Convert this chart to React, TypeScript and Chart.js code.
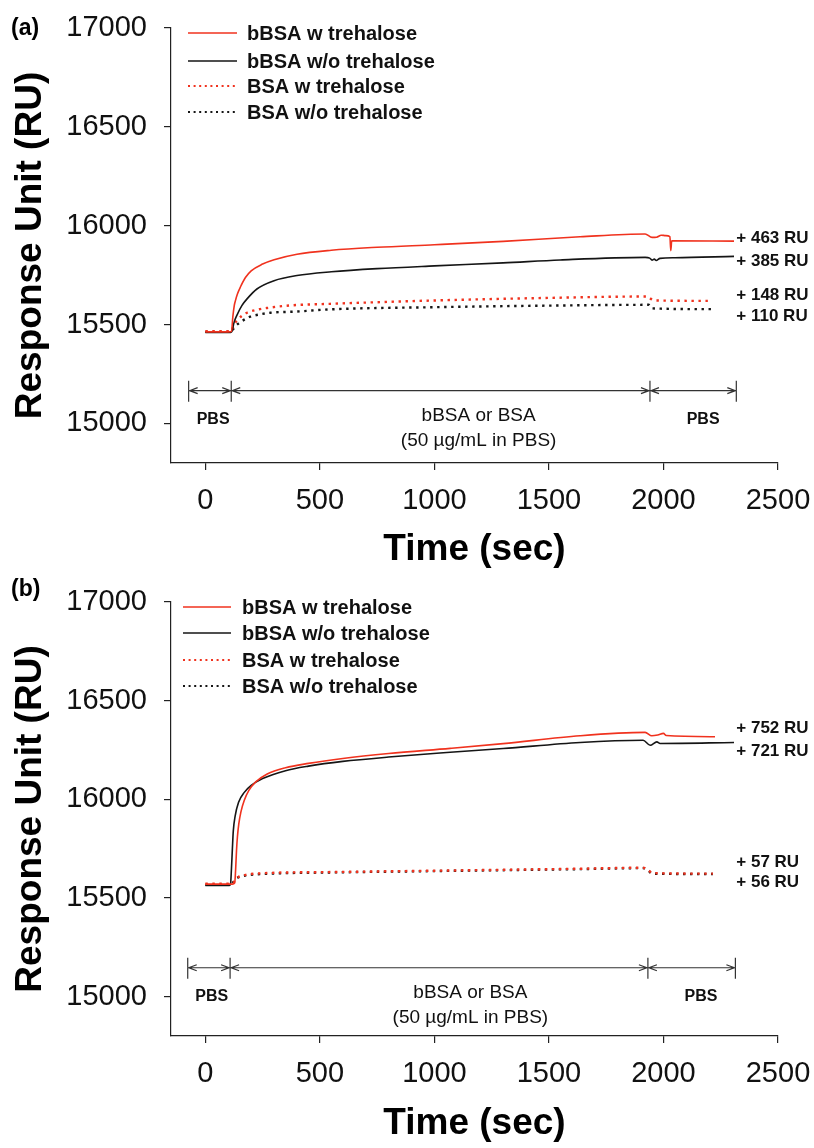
import React, { useEffect, useRef } from 'react';
import { Chart, registerables } from 'chart.js';

Chart.register(...registerables);

type Pt = [number, number];

// ---------- data (time in s, response in RU) ----------
const SERIES_NAMES = ['bBSA w trehalose', 'bBSA w/o trehalose', 'BSA w trehalose', 'BSA w/o trehalose'];
const TIME_TICKS = [0, 500, 1000, 1500, 2000, 2500];
const RU_TICKS = [15000, 15500, 16000, 16500, 17000];

// Panel (a)
const A_BBSA_W: Pt[] = [[0,15463],[100,15463],[114,15465],[120,15540],[126,15595],[131,15620],[140,15655],[153,15690],[175,15738],[200,15772],[250,15806],[300,15828],[400,15856],[550,15876],[750,15891],[1000,15904],[1300,15921],[1636,15944],[1920,15958],[1950,15941],[1970,15942],[1990,15952],[2010,15950],[2028,15945],[2032,15874],[2036,15924],[2308,15922]];
const A_BBSA_WO: Pt[] = [[0,15460],[110,15460],[116,15465],[125,15510],[138,15548],[160,15597],[182,15630],[225,15680],[300,15722],[400,15748],[550,15767],[750,15783],[1000,15797],[1300,15812],[1549,15827],[1920,15840],[1940,15836],[1950,15826],[1960,15831],[1968,15824],[1985,15835],[2050,15838],[2308,15845]];
const A_BSA_W: Pt[] = [[0,15466],[110,15466],[118,15480],[128,15505],[138,15521],[160,15545],[182,15560],[220,15574],[269,15584],[371,15597],[545,15605],[1000,15622],[1500,15635],[1928,15642],[1945,15630],[1960,15622],[2195,15620]];
const A_BSA_WO: Pt[] = [[0,15463],[112,15463],[120,15475],[132,15492],[144,15505],[170,15525],[196,15540],[240,15552],[284,15560],[400,15566],[545,15577],[1000,15588],[1500,15596],[1935,15600],[1950,15582],[2216,15578]];
const A_DELTAS = ['+ 463 RU', '+ 385 RU', '+ 148 RU', '+ 110 RU'];

// Panel (b)
const B_BBSA_W: Pt[] = [[0,15570],[118,15570],[128,15575],[132,15640],[136,15740],[140,15810],[146,15875],[155,15935],[170,15995],[190,16045],[220,16088],[270,16128],[350,16160],[450,16182],[600,16207],[800,16232],[1069,16258],[1300,16282],[1636,16322],[1920,16339],[1949,16322],[1975,16326],[2000,16334],[2012,16323],[2225,16317]];
const B_BBSA_WO: Pt[] = [[0,15563],[105,15563],[110,15570],[114,15650],[118,15750],[122,15840],[130,15915],[145,15985],[170,16035],[200,16070],[250,16105],[350,16145],[450,16168],[600,16192],[800,16214],[1069,16238],[1300,16257],[1636,16288],[1911,16299],[1942,16274],[1971,16291],[1985,16283],[2308,16288]];
const B_BSA_W: Pt[] = [[0,15572],[115,15572],[125,15580],[135,15597],[144,15606],[182,15618],[269,15626],[545,15631],[1000,15638],[1636,15648],[1911,15653],[1935,15640],[1950,15626],[2216,15623]];
const B_BSA_WO: Pt[] = [[0,15566],[112,15566],[122,15580],[135,15598],[150,15607],[190,15616],[280,15623],[545,15629],[1000,15636],[1636,15646],[1911,15651],[1935,15637],[1950,15623],[2216,15621]];
const B_DELTAS = ['+ 752 RU', '+ 721 RU', '+ 57 RU', '+ 56 RU'];

// phase annotation
const PHASE_MID_TEXT = ['bBSA or BSA', '(50 \u00b5g/mL in PBS)'];
const PHASE_SIDE_TEXT = 'PBS';

// ---------- styling / layout ----------
const FONT = '"Liberation Sans", Arial, Helvetica, sans-serif';
const RED = '#f0321e';
const BLACK = '#151515';
const COLORS = [RED, BLACK, RED, BLACK];
const DOTTED = [false, false, true, true];

interface PanelCfg {
  tag: string;
  series: Pt[][];
  deltas: string[];
  deltaAnchors: number[];
  bounds: number[];
  bracketRU: number;
  textT: number[];
  legend: { x0: number; x1: number; tx: number; ys: number[] };
  tagY: number;
  axisBottom: number;
}

const PANELS: PanelCfg[] = [
  {
    tag: '(a)',
    series: [A_BBSA_W, A_BBSA_WO, A_BSA_W, A_BSA_WO],
    deltas: A_DELTAS,
    deltaAnchors: [15938, 15822, 15646, 15540],
    bounds: [-73, 113, 1941, 2318],
    bracketRU: 15166,
    textT: [34, 1193, 2173],
    legend: { x0: 188, x1: 237, tx: 247, ys: [33, 61, 86, 112] },
    tagY: 29,
    axisBottom: 463,
  },
  {
    tag: '(b)',
    series: [B_BBSA_W, B_BBSA_WO, B_BSA_W, B_BSA_WO],
    deltas: B_DELTAS,
    deltaAnchors: [16360, 16244, 15680, 15579],
    bounds: [-77, 108, 1932, 2314],
    bracketRU: 15146,
    textT: [28, 1157, 2164],
    legend: { x0: 183, x1: 231, tx: 242, ys: [33, 59, 86, 112] },
    tagY: 16,
    axisBottom: 462,
  },
];

const W = 814;
const H = 574;

const decorPlugin = {
  id: 'panelDecor',
  afterDraw(chart: any, _args: any, opts: any) {
    const cfg: PanelCfg = opts.cfg;
    if (!cfg) return;
    const ctx: CanvasRenderingContext2D = chart.ctx;
    const xs = chart.scales.x;
    const ys = chart.scales.y;
    ctx.save();

    ctx.fillStyle = '#000';
    ctx.font = `bold 23px ${FONT}`;
    ctx.textAlign = 'left';
    ctx.textBaseline = 'middle';
    ctx.fillText(cfg.tag, 11, cfg.tagY);

    const lg = cfg.legend;
    SERIES_NAMES.forEach((name, i) => {
      const y = lg.ys[i];
      ctx.beginPath();
      ctx.strokeStyle = COLORS[i];
      ctx.lineWidth = DOTTED[i] ? 2 : 1.6;
      ctx.setLineDash(DOTTED[i] ? [2, 3.6] : []);
      ctx.moveTo(lg.x0, y);
      ctx.lineTo(lg.x1, y);
      ctx.stroke();
      ctx.setLineDash([]);
      ctx.fillStyle = '#111';
      ctx.font = `bold 20px ${FONT}`;
      ctx.textAlign = 'left';
      ctx.textBaseline = 'middle';
      ctx.fillText(name, lg.tx, y + 1);
    });

    ctx.font = `bold 17px ${FONT}`;
    ctx.fillStyle = '#111';
    cfg.deltas.forEach((t, i) => {
      ctx.fillText(t, xs.getPixelForValue(2318), ys.getPixelForValue(cfg.deltaAnchors[i]));
    });

    const by = ys.getPixelForValue(cfg.bracketRU);
    const bx = cfg.bounds.map((b) => xs.getPixelForValue(b));
    ctx.strokeStyle = '#333';
    ctx.lineWidth = 1.2;
    ctx.beginPath();
    bx.forEach((x) => {
      ctx.moveTo(x, by - 10);
      ctx.lineTo(x, by + 11);
    });
    ctx.moveTo(bx[0], by);
    ctx.lineTo(bx[bx.length - 1], by);
    for (let k = 0; k < bx.length - 1; k++) {
      const l = bx[k] + 1;
      const r = bx[k + 1] - 1;
      ctx.moveTo(l + 8, by - 3);
      ctx.lineTo(l, by);
      ctx.lineTo(l + 8, by + 3);
      ctx.moveTo(r - 8, by - 3);
      ctx.lineTo(r, by);
      ctx.lineTo(r - 8, by + 3);
    }
    ctx.stroke();

    ctx.fillStyle = '#111';
    ctx.textAlign = 'center';
    ctx.font = `bold 16px ${FONT}`;
    ctx.fillText(PHASE_SIDE_TEXT, xs.getPixelForValue(cfg.textT[0]), by + 29);
    ctx.fillText(PHASE_SIDE_TEXT, xs.getPixelForValue(cfg.textT[2]), by + 29);
    ctx.font = `19px ${FONT}`;
    ctx.fillText(PHASE_MID_TEXT[0], xs.getPixelForValue(cfg.textT[1]), by + 25);
    ctx.fillText(PHASE_MID_TEXT[1], xs.getPixelForValue(cfg.textT[1]), by + 50);
    ctx.restore();
  },
};

function Panel({ cfg }: { cfg: PanelCfg }) {
  const ref = useRef<HTMLCanvasElement | null>(null);
  useEffect(() => {
    if (!ref.current) return;
    const chart = new Chart(ref.current, {
      type: 'line',
      data: {
        datasets: cfg.series.map((s, i) => ({
          label: SERIES_NAMES[i],
          data: s.map(([x, y]) => ({ x, y })),
          borderColor: COLORS[i],
          backgroundColor: COLORS[i],
          borderWidth: DOTTED[i] ? 2.4 : 1.6,
          borderDash: DOTTED[i] ? [2.4, 4.6] : [],
          pointRadius: 0,
          fill: false,
          cubicInterpolationMode: 'monotone' as const,
        })),
      },
      options: {
        animation: false,
        responsive: false,
        devicePixelRatio: 1,
        layout: { padding: { left: 0, right: 36, top: 28, bottom: 0 } },
        plugins: {
          legend: { display: false },
          tooltip: { enabled: false },
          panelDecor: { cfg },
        } as any,
        scales: {
          x: {
            type: 'linear',
            min: -150,
            max: 2500,
            afterBuildTicks: (s: any) => {
              s.ticks = TIME_TICKS.map((v) => ({ value: v }));
            },
            afterFit: (s: any) => {
              s.height = H - cfg.axisBottom;
              s.paddingLeft = 0;
              s.paddingRight = 0;
            },
            grid: { drawOnChartArea: false, drawTicks: true, tickLength: 7, color: '#222', lineWidth: 1.2 },
            border: { display: true, color: '#222', width: 1.2 },
            ticks: {
              font: { family: FONT, size: 29 },
              color: '#111',
              padding: 14,
              maxRotation: 0,
              autoSkip: false,
              callback: (v: any) => String(v),
            },
            title: {
              display: true,
              text: 'Time (sec)',
              color: '#000',
              font: { family: FONT, size: 37, weight: 'bold', lineHeight: 1 },
              padding: { top: 0, bottom: 6 },
            },
          },
          y: {
            type: 'linear',
            min: 14800,
            max: 17000,
            afterBuildTicks: (s: any) => {
              s.ticks = RU_TICKS.map((v) => ({ value: v }));
            },
            afterFit: (s: any) => {
              s.width = 171;
              s.paddingTop = 0;
              s.paddingBottom = 0;
            },
            grid: { drawOnChartArea: false, drawTicks: true, tickLength: 7, color: '#222', lineWidth: 1.2 },
            border: { display: true, color: '#222', width: 1.2 },
            ticks: {
              font: { family: FONT, size: 29 },
              color: '#111',
              padding: 17,
              autoSkip: false,
              callback: (v: any) => String(v),
            },
            title: {
              display: true,
              text: 'Response Unit (RU)',
              color: '#000',
              font: { family: FONT, size: 37, weight: 'bold', lineHeight: 1 },
              padding: { top: 12, bottom: 0 },
            },
          },
        },
      } as any,
      plugins: [decorPlugin],
    });
    return () => chart.destroy();
  }, [cfg]);
  return <canvas ref={ref} width={W} height={H} style={{ display: 'block', width: W, height: H }} />;
}

export default function App() {
  return (
    <div style={{ position: 'absolute', left: 0, top: 0, width: W, height: 2 * H, background: '#fff' }}>
      {PANELS.map((p) => (
        <Panel key={p.tag} cfg={p} />
      ))}
    </div>
  );
}
